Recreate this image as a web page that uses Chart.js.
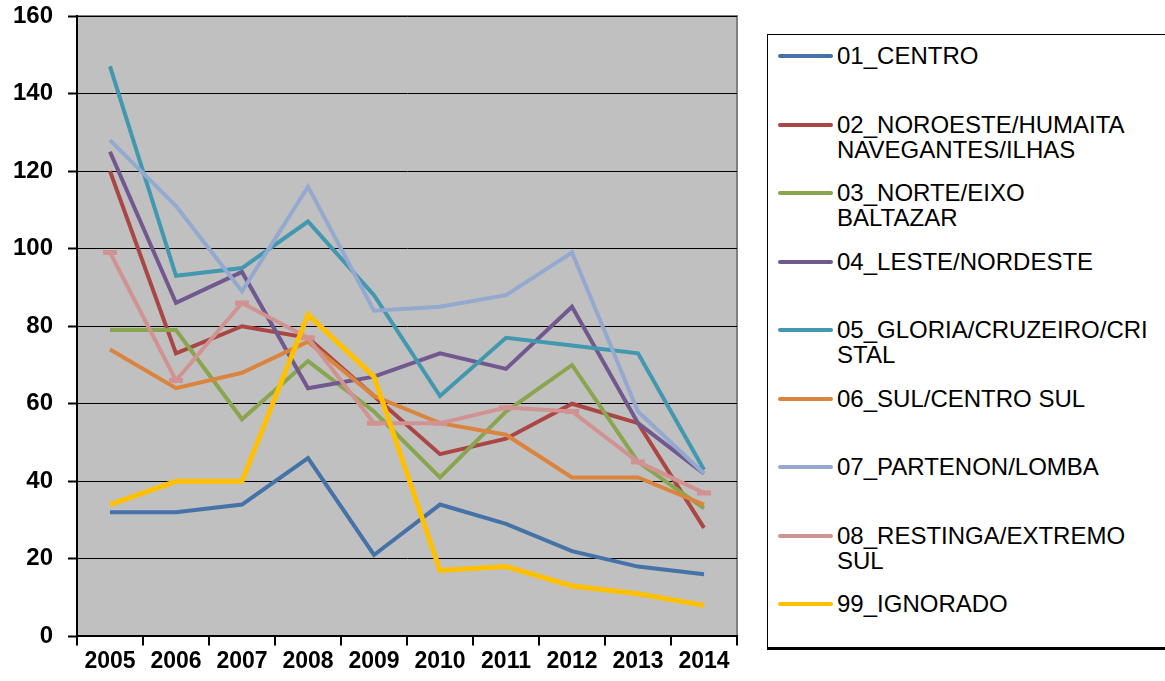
<!DOCTYPE html>
<html>
<head>
<meta charset="utf-8">
<script src="https://cdn.jsdelivr.net/npm/chart.js@4.4.0/dist/chart.umd.min.js"></script>
<style>
  html, body { margin: 0; padding: 0; background: #fff; }
  #wrap { position: relative; width: 1165px; height: 681px; overflow: hidden; }
  #legendBox {
    position: absolute; left: 767px; top: 34px; width: 420px; height: 616px;
    border: 1.5px solid #000; border-bottom-width: 3px; box-sizing: border-box;
    background: #fff;
  }
  .item { position: absolute; left: 0; font: 24px "Liberation Sans", Arial, sans-serif; line-height: 25px; color: #000; }
  .item .sample { position: absolute; left: 10px; top: 11px; width: 55px; height: 4px; border-radius: 2px; }
  .item .txt { position: absolute; left: 69px; top: 0; white-space: nowrap; }
</style>
</head>
<body>
<div id="wrap">
  <canvas id="lineChart"></canvas>
  <div id="legendBox"></div>
</div>
<script>
const years = ["2005", "2006", "2007", "2008", "2009", "2010", "2011", "2012", "2013", "2014"];

const regions = [
  { name: "01_CENTRO", color: "#4572A7", values: [32, 32, 34, 46, 21, 34, 29, 22, 18, 16] },
  { name: "02_NOROESTE/HUMAITA\nNAVEGANTES/ILHAS", color: "#AA4643", values: [120, 73, 80, 77, 62, 47, 51, 60, 55, 28] },
  { name: "03_NORTE/EIXO\nBALTAZAR", color: "#89A54E", values: [79, 79, 56, 71, 58, 41, 58, 70, 45, 33] },
  { name: "04_LESTE/NORDESTE", color: "#71588F", values: [125, 86, 94, 64, 67, 73, 69, 85, 55, 42] },
  { name: "05_GLORIA/CRUZEIRO/CRI\nSTAL", color: "#4198AF", values: [147, 93, 95, 107, 88, 62, 77, 75, 73, 43] },
  { name: "06_SUL/CENTRO SUL", color: "#DB843D", values: [74, 64, 68, 76, 62, 55, 52, 41, 41, 34] },
  { name: "07_PARTENON/LOMBA", color: "#93A9CF", values: [128, 111, 89, 116, 84, 85, 88, 99, 58, 42] },
  { name: "08_RESTINGA/EXTREMO\nSUL", color: "#D19392", values: [99, 66, 86, 77, 55, 55, 59, 58, 45, 37], dash: true },
  { name: "99_IGNORADO", color: "#FFC000", values: [34, 40, 40, 83, 67, 17, 18, 13, 11, 8] },
];

// gray plot area with a darker frame, like the spreadsheet chart
const plotBackground = {
  id: "plotBackground",
  beforeDraw(chart) {
    const { ctx, chartArea: a } = chart;
    ctx.save();
    ctx.fillStyle = "#C0C0C0";
    ctx.fillRect(a.left, a.top, a.right - a.left, a.bottom - a.top);
    ctx.strokeStyle = "#808080";
    ctx.lineWidth = 2;
    ctx.beginPath();
    ctx.moveTo(a.left, a.top);
    ctx.lineTo(a.right, a.top);
    ctx.lineTo(a.right, a.bottom);
    ctx.stroke();
    ctx.restore();
  },
};

const ctx = document.getElementById("lineChart").getContext("2d");
const chart = new Chart(ctx, {
  type: "line",
  data: {
    labels: years,
    datasets: regions.map((r, i) => ({
      label: r.name,
      data: r.values,
      borderColor: r.color,
      backgroundColor: r.color,
      borderWidth: r.color === "#FFC000" ? 5 : 4,
      tension: 0,
      pointRadius: r.dash ? 7 : 0,
      pointStyle: "line",
      pointBorderWidth: 5,
      pointBorderColor: r.color,
      order: regions.length - i,
    })),
  },
  options: {
    responsive: true,
    maintainAspectRatio: false,
    animation: false,
    layout: { padding: { left: 0, right: 428, top: 16, bottom: 4 } },
    plugins: {
      legend: { display: false },
      tooltip: { enabled: false },
    },
    scales: {
      x: {
        offset: true,
        grid: {
          offset: true,
          drawOnChartArea: false,
          drawTicks: true,
          tickLength: 9,
          color: "#000",
          lineWidth: 2,
        },
        border: { color: "#000", width: 2 },
        ticks: {
          color: "#000",
          padding: 2,
          maxRotation: 0,
          autoSkip: false,
          font: { family: "'Liberation Sans', Arial, sans-serif", weight: "bold", size: 23 },
        },
      },
      y: {
        min: 0,
        max: 160,
        afterFit: (scale) => {
          scale.width = 77;
          scale.paddingTop = 0;
          scale.paddingBottom = 0;
        },
        grid: {
          color: "#000",
          lineWidth: 1,
          tickLength: 9,
          tickColor: "#000",
          tickWidth: 2,
        },
        border: { color: "#000", width: 2 },
        ticks: {
          stepSize: 20,
          color: "#000",
          padding: 15,
          font: { family: "'Liberation Sans', Arial, sans-serif", weight: "bold", size: 24 },
        },
      },
    },
  },
  plugins: [plotBackground],
});

function buildLegend() {
  const box = document.getElementById("legendBox");
  box.innerHTML = "";
  chart.data.datasets.forEach((ds, idx) => {
    const item = document.createElement("div");
    item.className = "item";
    item.style.top = `${8 + idx * 68.5}px`;
    const lines = ds.label.split("\n").join("<br>");
    item.innerHTML = `<span class="sample" style="background:${ds.borderColor}"></span><span class="txt">${lines}</span>`;
    box.appendChild(item);
  });
}

buildLegend();
</script>
</body>
</html>
